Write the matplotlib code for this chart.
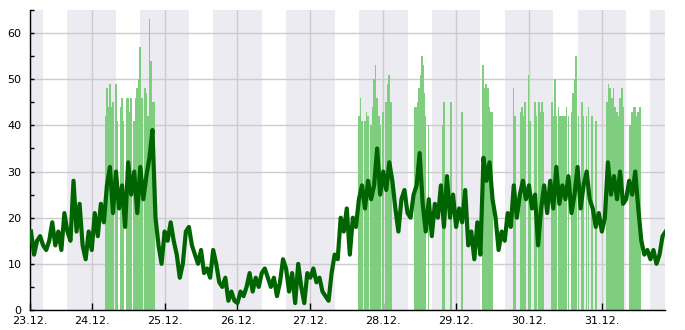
import numpy as np
import matplotlib
matplotlib.use("Agg")
import matplotlib.pyplot as plt
from matplotlib.ticker import MultipleLocator

# hours since 23.12. 00:00
day_labels = ["23.12.", "24.12.", "25.12.", "26.12.", "27.12.",
              "28.12.", "29.12.", "30.12.", "31.12."]
start_hour = 3.67
end_hour = 212.8

# dark line, one value per hour starting at hour 4
line_first_hour = 4
line_values = [
    # 23.12.
    17, 12, 15, 16, 14, 13, 15, 19, 14, 17, 13, 21, 17, 15, 28, 17, 23, 14, 11, 17,
    # 24.12.
    13, 21, 16, 23, 19, 27, 31, 21, 30, 22, 27, 18, 32, 25, 30, 21, 31, 24, 29, 33,
    39, 20, 14, 10,
    # 25.12.
    17, 15, 19, 15, 12, 7, 10, 17, 18, 14, 12, 10, 13, 8, 9, 7, 13, 10, 6, 5,
    7, 2, 4, 2,
    # 26.12.
    1.5, 4, 3, 5, 8, 4, 7, 5, 8, 9, 7, 5, 7, 3, 6, 11, 9, 4, 8, 1.5,
    10, 5, 1.5, 8,
    # 27.12.
    7, 9, 6, 7, 4, 3, 2, 8, 12, 11, 20, 17, 22, 12, 20, 18, 24, 27, 22, 28,
    24, 27, 35, 25,
    # 28.12.
    30, 26, 32, 28, 22, 17, 24, 26, 21, 20, 25, 27, 34, 23, 17, 24, 16, 23, 20, 27,
    18, 29, 20, 25,
    # 29.12.
    18, 22, 19, 26, 14, 17, 11, 19, 12, 33, 28, 32, 24, 20, 13, 17, 15, 21, 18, 27,
    20, 25, 28, 24,
    # 30.12.
    27, 22, 25, 14, 22, 27, 21, 28, 22, 31, 23, 27, 24, 29, 21, 25, 31, 22, 27, 30,
    24, 22, 18, 21,
    # 31.12.
    17, 20, 32, 25, 29, 24, 30, 23, 24, 28, 25, 30, 22, 15, 12, 13, 11, 13, 10, 12,
    16, 17,
]

# light bars
bar_hours = [
    28.5, 29, 29.5, 30, 30.5, 31, 32, 32.5, 33.5, 34, 34.5, 35.5, 36, 36.5, 37,
    38, 38.5, 39, 39.5, 40, 40.5, 41.5, 42, 42.5, 43, 43.5, 44, 44.5,
    112, 112.5, 113, 114, 114.5, 115, 116, 116.5, 117, 117.5, 118, 118.5, 119,
    120, 121, 121.5, 122, 122.5,
    130.3, 130.8, 131.3, 131.8, 132.3, 132.8, 133.1, 133.5, 133.9, 134.9,
    139.6, 140.1, 142.3, 145.9,
    152.9, 153.4, 153.9, 154.4, 154.9, 155.3, 155.8,
    162.9, 163.3, 165.2, 165.6, 166.2, 166.7, 167.8, 168.4, 170.0, 170.3,
    171.2, 171.9, 172.2, 172.8, 175.5, 176.0, 176.6, 176.9, 177.7, 178.2,
    178.8, 179.3, 179.9, 180.4, 181.0, 182.1, 182.6, 183.1, 183.4, 183.7,
    184.3, 185.4, 185.9, 187.0, 187.6, 188.7, 190.0,
    193.6, 194.2, 194.7, 195.3, 195.8, 196.4, 196.9, 197.5, 198.0, 198.6,
    199.1, 201.3, 201.9, 202.4, 203.0, 203.5, 204.0, 204.6,
]
bar_values = [
    42, 48, 44, 49, 44, 45, 49, 41, 44, 46, 41, 46, 46, 43, 46,
    41, 46, 48, 50, 57, 46, 48, 47, 42, 63, 54, 45, 45,
    42, 46, 41, 41, 43, 42, 40, 44, 50, 53, 46, 42, 40,
    43, 45, 49, 51, 45,
    44, 44, 45, 48, 51, 55, 53, 47, 42, 40,
    40, 45, 45, 43,
    53, 48, 49, 48, 44, 43, 43,
    48, 42, 43, 44, 42, 45, 51, 41, 45, 42,
    45, 43, 45, 43, 45, 42, 50, 42, 44, 42,
    42, 42, 42, 44, 42, 43, 47, 50, 55, 50,
    42, 45, 42, 42, 44, 42, 41,
    45, 49, 48, 46, 48, 44, 43, 42, 46, 48,
    44, 40, 43, 44, 44, 42, 43, 44,
]

line_hours = line_first_hour + np.arange(len(line_values))

fig = plt.figure(figsize=(6.85, 3.3), dpi=100)
ax = fig.add_axes([30 / 685, 20 / 330, 635 / 685, 300 / 330])

# grey bands 16:00 - 08:00
for d in range(-1, len(day_labels)):
    ax.axvspan(d * 24 + 16, d * 24 + 32, color="#ebebf1", lw=0, zorder=0)

ax.bar(bar_hours, bar_values, width=0.55, color="#7fcd7f", lw=0, zorder=2)
ax.plot(line_hours, line_values, color="#006400", lw=3.0, zorder=3)

ax.set_xlim(start_hour, end_hour)
ax.set_ylim(0, 65)

ticks = [start_hour] + [24 * i for i in range(1, len(day_labels))]
ax.set_xticks(ticks)
ax.set_xticklabels(day_labels)
ax.yaxis.set_major_locator(MultipleLocator(10))
ax.yaxis.set_minor_locator(MultipleLocator(5))

ax.grid(True, color="#cccccc", lw=1, zorder=1)
ax.set_axisbelow(True)
for s in ["top", "right"]:
    ax.spines[s].set_visible(False)
for s in ["left", "bottom"]:
    ax.spines[s].set_color("black")
    ax.spines[s].set_linewidth(1)

ax.tick_params(axis="x", direction="in", length=5, width=1, pad=4.5, labelsize=8)
ax.tick_params(axis="y", which="both", direction="in", length=3, width=1,
               pad=6, labelsize=8)

fig.savefig("out.png", dpi=100)
